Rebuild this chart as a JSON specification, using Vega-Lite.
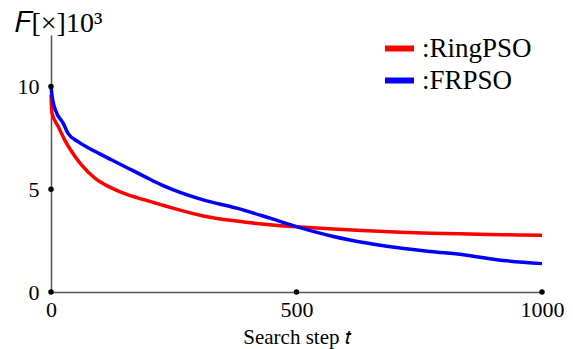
{
  "$schema": "https://vega.github.io/schema/vega-lite/v6.json",
  "width": 491,
  "height": 257,
  "autosize": {"type": "none"},
  "padding": {"left": 51, "top": 35, "right": 31, "bottom": 57},
  "background": "white",
  "config": {"view": {"stroke": null}, "font": "Liberation Serif"},
  "datasets": {
    "curves": [
      {"t": 0, "F": 9.6, "series": "RingPSO"},
      {"t": 2, "F": 8.7, "series": "RingPSO"},
      {"t": 15, "F": 8.04, "series": "RingPSO"},
      {"t": 28, "F": 7.39, "series": "RingPSO"},
      {"t": 42, "F": 6.83, "series": "RingPSO"},
      {"t": 62, "F": 6.18, "series": "RingPSO"},
      {"t": 90, "F": 5.53, "series": "RingPSO"},
      {"t": 124, "F": 5.05, "series": "RingPSO"},
      {"t": 157, "F": 4.72, "series": "RingPSO"},
      {"t": 191, "F": 4.48, "series": "RingPSO"},
      {"t": 225, "F": 4.24, "series": "RingPSO"},
      {"t": 248, "F": 4.08, "series": "RingPSO"},
      {"t": 310, "F": 3.7, "series": "RingPSO"},
      {"t": 378, "F": 3.45, "series": "RingPSO"},
      {"t": 446, "F": 3.27, "series": "RingPSO"},
      {"t": 507, "F": 3.16, "series": "RingPSO"},
      {"t": 575, "F": 3.06, "series": "RingPSO"},
      {"t": 643, "F": 2.98, "series": "RingPSO"},
      {"t": 711, "F": 2.91, "series": "RingPSO"},
      {"t": 772, "F": 2.86, "series": "RingPSO"},
      {"t": 850, "F": 2.82, "series": "RingPSO"},
      {"t": 920, "F": 2.79, "series": "RingPSO"},
      {"t": 1000, "F": 2.76, "series": "RingPSO"},
      {"t": 0, "F": 10.0, "series": "FRPSO"},
      {"t": 3, "F": 9.4, "series": "FRPSO"},
      {"t": 9, "F": 8.85, "series": "FRPSO"},
      {"t": 25, "F": 8.2, "series": "FRPSO"},
      {"t": 35, "F": 7.7, "series": "FRPSO"},
      {"t": 56, "F": 7.3, "series": "FRPSO"},
      {"t": 90, "F": 6.83, "series": "FRPSO"},
      {"t": 124, "F": 6.42, "series": "FRPSO"},
      {"t": 157, "F": 6.02, "series": "FRPSO"},
      {"t": 191, "F": 5.61, "series": "FRPSO"},
      {"t": 225, "F": 5.21, "series": "FRPSO"},
      {"t": 248, "F": 4.98, "series": "FRPSO"},
      {"t": 310, "F": 4.48, "series": "FRPSO"},
      {"t": 378, "F": 4.08, "series": "FRPSO"},
      {"t": 446, "F": 3.59, "series": "FRPSO"},
      {"t": 507, "F": 3.13, "series": "FRPSO"},
      {"t": 575, "F": 2.7, "series": "FRPSO"},
      {"t": 643, "F": 2.38, "series": "FRPSO"},
      {"t": 711, "F": 2.14, "series": "FRPSO"},
      {"t": 772, "F": 1.97, "series": "FRPSO"},
      {"t": 840, "F": 1.81, "series": "FRPSO"},
      {"t": 908, "F": 1.57, "series": "FRPSO"},
      {"t": 1000, "F": 1.38, "series": "FRPSO"}
    ],
    "tickdots": [
      {"t": 0, "F": 0},
      {"t": 0, "F": 5},
      {"t": 0, "F": 10},
      {"t": 500, "F": 0},
      {"t": 1000, "F": 0}
    ]
  },
  "layer": [
    {
      "data": {"name": "curves"},
      "mark": {"type": "line", "strokeWidth": 3.5, "interpolate": "monotone"},
      "encoding": {
        "x": {
          "field": "t", "type": "quantitative",
          "scale": {"domain": [0, 1000], "nice": false},
          "axis": {
            "values": [0, 500, 1000], "format": "d", "ticks": false, "tickSize": 0, "grid": false,
            "domainColor": "#555", "domainWidth": 1.5,
            "labelFont": "Liberation Serif", "labelFontSize": 22, "labelColor": "#000", "labelPadding": 7, "labelFlush": false,
            "title": "Search step 𝑡", "titleFont": "Liberation Serif", "titleFontSize": 21, "titleFontWeight": "normal", "titleColor": "#000",
            "titleX": 245.5, "titleY": 51, "titleBaseline": "alphabetic"
          }
        },
        "y": {
          "field": "F", "type": "quantitative",
          "scale": {"domain": [0, 12.5], "nice": false},
          "axis": {
            "values": [0, 5, 10], "ticks": false, "tickSize": 0, "grid": false,
            "domainColor": "#555", "domainWidth": 1.5,
            "labelFont": "Liberation Serif", "labelFontSize": 22, "labelColor": "#000", "labelPadding": 12, "labelFlush": false,
            "title": "𝐹[×]10³", "titleAngle": 0, "titleAlign": "left", "titleBaseline": "alphabetic",
            "titleX": -37, "titleY": -4, "titleFont": "Liberation Serif", "titleFontSize": 28, "titleFontWeight": "normal", "titleColor": "#000"
          }
        },
        "color": {
          "field": "series", "type": "nominal",
          "scale": {"domain": ["RingPSO", "FRPSO"], "range": ["#ff0000", "#0000ff"]},
          "legend": {
            "orient": "none", "legendX": 331, "legendY": -4, "title": null, "padding": 0,
            "symbolType": "stroke", "symbolSize": 841, "symbolStrokeWidth": 6,
            "labelFont": "Liberation Serif", "labelFontSize": 27, "labelColor": "#000", "labelOffset": 5,
            "labelExpr": "':' + datum.label", "rowPadding": 1
          }
        }
      }
    },
    {
      "data": {"name": "tickdots"},
      "mark": {"type": "point", "filled": true, "color": "#000", "size": 30, "opacity": 1},
      "encoding": {
        "x": {"field": "t", "type": "quantitative"},
        "y": {"field": "F", "type": "quantitative"}
      }
    }
  ]
}
